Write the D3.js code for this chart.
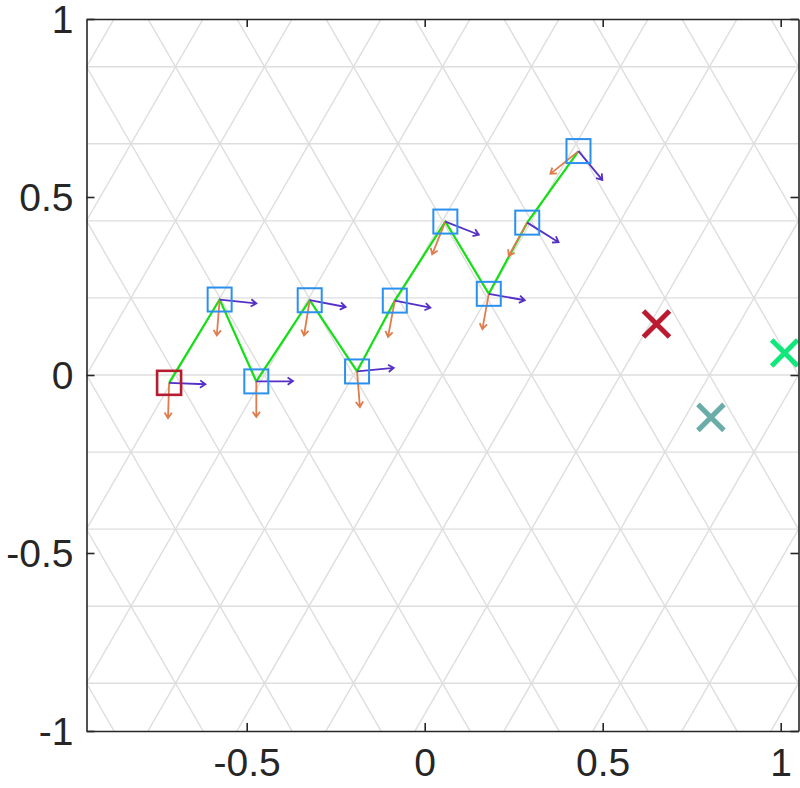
<!DOCTYPE html>
<meta charset="utf-8">
<style>
    body { margin: 0; background: #fff; }
    svg { display: block; background: #fff; }
</style>
<body>
<svg width="800" height="788"></svg>
<script src="https://cdn.jsdelivr.net/npm/d3@7"></script>
<script>
    // path nodes (first one is the start node)
    var nodeX = [-0.718, -0.576, -0.473, -0.323, -0.190, -0.084, 0.058, 0.180, 0.288, 0.432];
    var nodeY = [-0.022, 0.212, -0.018, 0.210, 0.010, 0.209, 0.431, 0.228, 0.428, 0.629];

    // heading arrows (purple) and normal arrows (orange), per node
    var headU = [0.102, 0.103, 0.103, 0.101, 0.103, 0.100, 0.094, 0.101, 0.088, 0.067];
    var headV = [-0.004, -0.011, 0.001, -0.019, 0.010, -0.020, -0.037, -0.018, -0.055, -0.081];
    var normU = [-0.003, -0.008, 0.000, -0.016, 0.008, -0.019, -0.037, -0.018, -0.052, -0.079];
    var normV = [-0.099, -0.101, -0.100, -0.099, -0.100, -0.102, -0.092, -0.099, -0.093, -0.064];

    // target crosses
    var targetX = [0.651, 0.804, 1.011];
    var targetY = [0.143, -0.119, 0.062];
    var targetColor = ["#bb1a30", "#6aaca8", "#10e87c"];

    // triangular lattice behind the plot
    var latticeSide = 0.25;
    var latticeOffset = 0.05;

    var xTicks = [-0.5, 0, 0.5, 1];
    var yTicks = [-1, -0.5, 0, 0.5, 1];

    var svg = d3.select("svg");
    var pLeft = 86.5, pRight = 798.5, pTop = 19, pBottom = 731;

    var x = d3.scaleLinear().domain([-0.95, 1.05]).range([pLeft, pRight]);
    var y = d3.scaleLinear().domain([-1, 1]).range([pBottom, pTop]);

    svg.append("defs").append("clipPath")
        .attr("id", "clip")
        .append("rect")
        .attr("x", pLeft).attr("y", pTop)
        .attr("width", pRight - pLeft).attr("height", pBottom - pTop);

    var plot = svg.append("g").attr("clip-path", "url(#clip)");

    // lattice lines
    var h = latticeSide * Math.sqrt(3) / 2;
    var grid = plot.append("g")
        .attr("stroke", "#dedede")
        .attr("stroke-width", 1.4)
        .attr("fill", "none");
    for (var j = -6; j <= 6; j++) {
        grid.append("line")
            .attr("x1", x(-0.95)).attr("x2", x(1.05))
            .attr("y1", y(j * h)).attr("y2", y(j * h));
    }
    var cot = 1 / Math.sqrt(3);
    for (var k = -12; k <= 12; k++) {
        var c = latticeOffset + k * latticeSide;
        // rising lines: x - y/sqrt3 = c ; falling: x + y/sqrt3 = c
        grid.append("line")
            .attr("x1", x(c - 1.2 * cot)).attr("y1", y(-1.2))
            .attr("x2", x(c + 1.2 * cot)).attr("y2", y(1.2));
        grid.append("line")
            .attr("x1", x(c + 1.2 * cot)).attr("y1", y(-1.2))
            .attr("x2", x(c - 1.2 * cot)).attr("y2", y(1.2));
    }

    var nodes = nodeX.map(function (d, i) {
        return { x: d, y: nodeY[i], hu: headU[i], hv: headV[i], nu: normU[i], nv: normV[i] };
    });

    // path line
    var line = d3.line()
        .x(function (d) { return x(d.x); })
        .y(function (d) { return y(d.y); });

    plot.append("path")
        .datum(nodes)
        .attr("d", line)
        .attr("fill", "none")
        .attr("stroke", "#12e012")
        .attr("stroke-width", 2.2);

    function arrowPath(x0, y0, x1, y1) {
        var dx = x1 - x0, dy = y1 - y0;
        var a = Math.atan2(dy, dx);
        var len = 6.5, spread = 0.6;
        var p1 = [x1 - len * Math.cos(a - spread), y1 - len * Math.sin(a - spread)];
        var p2 = [x1 - len * Math.cos(a + spread), y1 - len * Math.sin(a + spread)];
        return "M" + x0 + "," + y0 + "L" + x1 + "," + y1 +
            "M" + p1[0] + "," + p1[1] + "L" + x1 + "," + y1 + "L" + p2[0] + "," + p2[1];
    }

    // orange arrows
    plot.append("g").selectAll("path")
        .data(nodes)
        .enter().append("path")
        .attr("d", function (d) { return arrowPath(x(d.x), y(d.y), x(d.x + d.nu), y(d.y + d.nv)); })
        .attr("fill", "none")
        .attr("stroke", "#e07c4c")
        .attr("stroke-width", 1.8);

    // purple arrows
    plot.append("g").selectAll("path")
        .data(nodes)
        .enter().append("path")
        .attr("d", function (d) { return arrowPath(x(d.x), y(d.y), x(d.x + d.hu), y(d.y + d.hv)); })
        .attr("fill", "none")
        .attr("stroke", "#5530c8")
        .attr("stroke-width", 1.8);

    // squares
    var sq = 24;
    plot.append("g").selectAll("rect")
        .data(nodes)
        .enter().append("rect")
        .attr("x", function (d) { return x(d.x) - sq / 2; })
        .attr("y", function (d) { return y(d.y) - sq / 2; })
        .attr("width", sq).attr("height", sq)
        .attr("fill", "none")
        .attr("stroke", function (d, i) { return i === 0 ? "#b51c30" : "#2a90ee"; })
        .attr("stroke-width", function (d, i) { return i === 0 ? 2.6 : 2; });

    // target crosses
    var cs = 13;
    plot.append("g").selectAll("path")
        .data(targetX)
        .enter().append("path")
        .attr("d", function (d, i) {
            var cx = x(d), cy = y(targetY[i]);
            return "M" + (cx - cs) + "," + (cy - cs) + "L" + (cx + cs) + "," + (cy + cs) +
                "M" + (cx - cs) + "," + (cy + cs) + "L" + (cx + cs) + "," + (cy - cs);
        })
        .attr("fill", "none")
        .attr("stroke", function (d, i) { return targetColor[i]; })
        .attr("stroke-width", 5);

    // axes (box with inward ticks)
    var fmt = function (d) { return String(d); };

    var gx = svg.append("g")
        .attr("transform", "translate(0," + pBottom + ")")
        .call(d3.axisBottom(x).tickValues(xTicks).tickFormat(fmt).tickSize(-8).tickSizeOuter(0).tickPadding(17));
    var gy = svg.append("g")
        .attr("transform", "translate(" + pLeft + ",0)")
        .call(d3.axisLeft(y).tickValues(yTicks).tickFormat(fmt).tickSize(-8).tickSizeOuter(0).tickPadding(13));
    var gt = svg.append("g")
        .attr("transform", "translate(0," + pTop + ")")
        .call(d3.axisTop(x).tickValues(xTicks).tickFormat("").tickSize(-8).tickSizeOuter(0));
    var gr = svg.append("g")
        .attr("transform", "translate(" + pRight + ",0)")
        .call(d3.axisRight(y).tickValues(yTicks).tickFormat("").tickSize(-8).tickSizeOuter(0));

    [gx, gy, gt, gr].forEach(function (g) {
        g.selectAll("path, line").attr("stroke", "#262626").attr("stroke-width", 1.6);
        g.selectAll("text")
            .attr("fill", "#262626")
            .style("font-family", "'Liberation Sans', Arial, Helvetica, sans-serif")
            .style("font-size", "39px");
    });
    gy.selectAll("text").attr("dy", "0.34em");
</script>
</body>
